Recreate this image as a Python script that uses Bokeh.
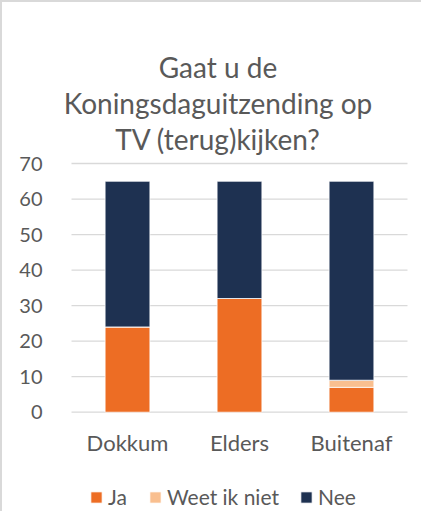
from bokeh.plotting import figure
from bokeh.models import Range1d, Label, Legend, LegendItem, FixedTicker
from bokeh.core.properties import value
from bokeh.embed import file_html
from bokeh.resources import INLINE

categories = ["Dokkum", "Elders", "Buitenaf"]
series = ["Ja", "Weet ik niet", "Nee"]
ja = [24, 32, 7]
weet_ik_niet = [0, 0, 2]
nee = [41, 33, 56]
y_ticks = [0, 10, 20, 30, 40, 50, 60, 70]
title_lines = ["Gaat u de", "Koningsdaguitzending op", "TV (terug)kijken?"]
colors = ["#ED6D24", "#F9BF8F", "#1E3151"]

FONT = "Lato"
TXT = "#595959"
GRID = "#D9D9D9"
BORDER = "2px solid #D9D9D9"

# category slots: one unit per category, bars centred in their slot
xpos = [i + 0.5 for i in range(len(categories))]

data = {"x": xpos, "Ja": ja, "Weet ik niet": weet_ik_niet, "Nee": nee}

p = figure(title=None, width=421, height=511,
           x_range=Range1d(-0.1875, 3.143), y_range=Range1d(-28.51, 104.62),
           output_backend="svg", toolbar_location=None, x_axis_location=None,
           min_border_left=48, min_border_right=0, min_border_top=38, min_border_bottom=0)
p.styles = {"border-left": BORDER, "border-top": BORDER}
p.outline_line_color = None
p.xgrid.visible = False
p.ygrid.visible = False

# horizontal gridlines across the category area only
n = len(y_ticks)
p.segment(x0=[0] * n, x1=[len(categories)] * n, y0=y_ticks, y1=y_ticks,
          line_color=GRID, line_width=1.3, level="underlay")

rs = p.vbar_stack(series, x="x", width=0.4, color=colors, source=data,
                  line_color="white", line_width=0.75)

# category labels under the bars
p.text(x=xpos, y=[-8.45] * len(categories), text=categories,
       text_align="center", text_baseline="alphabetic",
       text_font=value(FONT), text_font_size="22px", text_color=TXT)

# title
for line, yy in zip(title_lines, [97.16, 87.03, 76.90]):
    p.add_layout(Label(x=1.308, y=yy, text=line, text_align="center", text_baseline="alphabetic",
                       text_font=FONT, text_font_size="28px", text_color=TXT))

p.yaxis.ticker = FixedTicker(ticks=y_ticks)
p.yaxis.axis_line_color = None
p.yaxis.major_tick_line_color = None
p.yaxis.minor_tick_line_color = None
p.yaxis.major_label_text_font = FONT
p.yaxis.major_label_text_font_size = "20px"
p.yaxis.major_label_text_color = TXT
p.yaxis.major_label_standoff = 2

legend = Legend(items=[LegendItem(label=s, renderers=[r]) for s, r in zip(series, rs)],
                orientation="horizontal", location=(39, 4),
                glyph_width=14, glyph_height=14, label_standoff=5, spacing=20,
                padding=0, margin=0, border_line_color=None, background_fill_alpha=0,
                label_text_font=FONT, label_text_font_size="21px", label_text_color=TXT)
p.add_layout(legend, "center")

open("out.html", "w").write(file_html(p, INLINE))
